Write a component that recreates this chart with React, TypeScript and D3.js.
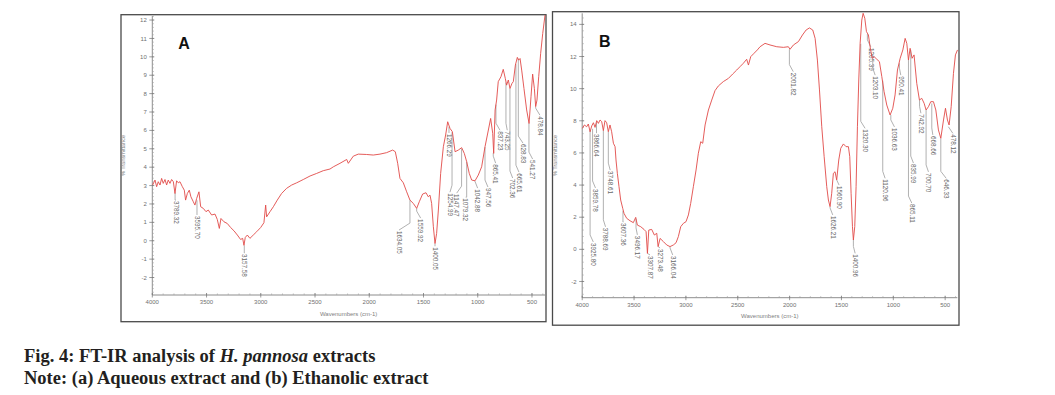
import React from 'react';
import * as d3 from 'd3';

// ---- spectra: [wavenumber (cm-1), % transmittance] ----
const spectrumA: [number, number][] = [
  [3997, 3.03], [3975, 3.3], [3960, 2.94], [3945, 3.21], [3929, 3.03], [3914, 3.39], [3899, 3.12],
  [3883, 3.33], [3868, 3.03], [3853, 3.3], [3837, 3.12], [3822, 3.33], [3806, 3.21], [3791, 2.57],
  [3776, 3.26], [3760, 3.15], [3745, 3.21], [3723, 2.94], [3705, 2.75], [3693, 2.21], [3677, 2.57],
  [3659, 2.75], [3644, 2.39], [3622, 2.12], [3607, 1.94], [3591, 2.3], [3570, 2.66], [3554, 1.85],
  [3530, 1.76], [3505, 1.58], [3484, 1.67], [3453, 1.4], [3422, 1.45], [3401, 1.16], [3382, 0.67],
  [3367, 1.21], [3339, 1.03], [3309, 0.94], [3278, 0.72], [3247, 0.54], [3216, 0.31], [3186, 0.07],
  [3167, 0.13], [3155, -0.25], [3143, 0.18], [3124, 0.31], [3100, 0.13], [3069, 0.31], [3038, 0.49],
  [3001, 0.72], [2971, 0.98], [2955, 1.94], [2946, 1.3], [2915, 1.58], [2884, 1.85], [2848, 2.21],
  [2808, 2.57], [2762, 2.85], [2715, 3.03], [2669, 3.15], [2608, 3.33], [2546, 3.52], [2485, 3.66],
  [2424, 3.81], [2362, 3.9], [2331, 4.02], [2270, 4.21], [2208, 4.42], [2193, 4.21], [2147, 4.6],
  [2101, 4.71], [2024, 4.69], [1963, 4.66], [1901, 4.71], [1840, 4.79], [1784, 4.93], [1760, 4.84],
  [1738, 4.21], [1717, 3.39], [1686, 3.15], [1655, 2.66], [1625, 2.21], [1594, 2.03], [1563, 1.76],
  [1539, 2.12], [1508, 2.54], [1477, 2.61], [1456, 2.39], [1440, 2.48], [1425, 2.03], [1409, 0.76],
  [1394, -0.15], [1379, 0.4], [1363, 1.67], [1342, 3.66], [1317, 5.11], [1296, 5.75], [1277, 6.47],
  [1256, 6.11], [1234, 5.93], [1209, 4.84], [1179, 4.93], [1148, 5.06], [1124, 4.75], [1102, 4.3],
  [1078, 3.66], [1056, 3.3], [1025, 3.26], [995, 3.57], [964, 4.02], [933, 5.11], [902, 6.02],
  [881, 6.65], [862, 5.84], [853, 4.75], [840, 7.11], [826, 7.65], [811, 8.65], [786, 8.92],
  [765, 9.32], [746, 8.83], [734, 8.46], [718, 8.74], [703, 8.28], [684, 8.56], [672, 8.65],
  [653, 9.55], [635, 9.97], [623, 9.82], [610, 9.91], [595, 9.28], [574, 8.28], [549, 7.11],
  [527, 6.38], [509, 7.83], [494, 9.06], [478, 8.28], [466, 7.29], [454, 7.65], [438, 8.92],
  [420, 10.19], [401, 11.27], [380, 12.27],
];

const spectrumB: [number, number][] = [
  [3998, 7.53], [3979, 7.74], [3957, 7.63], [3941, 7.8], [3924, 7.32], [3908, 7.68], [3892, 7.88],
  [3876, 7.59], [3860, 8.01], [3844, 7.84], [3828, 8.05], [3812, 7.95], [3796, 7.39], [3780, 8.01],
  [3764, 7.88], [3748, 7.32], [3732, 7.74], [3716, 7.32], [3699, 6.6], [3683, 6.39], [3674, 5.56],
  [3661, 4.73], [3645, 3.9], [3629, 3.07], [3609, 2.55], [3597, 2.24], [3571, 1.93], [3539, 1.78],
  [3507, 1.66], [3484, 1.99], [3468, 1.51], [3436, 1.41], [3404, 1.24], [3384, 1.1], [3371, -0.25],
  [3358, 1.2], [3330, 1.24], [3304, 0.89], [3281, 1.0], [3268, 0.17], [3249, 0.68], [3217, 0.48],
  [3185, 0.27], [3153, 0.17], [3121, 0.27], [3095, 0.41], [3073, 0.79], [3050, 1.41], [3024, 1.62],
  [2999, 1.72], [2976, 2.14], [2954, 2.86], [2928, 3.9], [2902, 4.94], [2880, 5.98], [2857, 6.7],
  [2838, 6.6], [2815, 7.74], [2783, 8.67], [2751, 9.29], [2719, 9.88], [2687, 10.17], [2639, 10.44],
  [2590, 10.64], [2549, 10.91], [2510, 11.16], [2478, 11.37], [2446, 11.58], [2414, 11.83],
  [2397, 11.47], [2375, 11.99], [2343, 12.2], [2311, 12.41], [2285, 12.61], [2237, 12.82],
  [2189, 12.72], [2124, 12.61], [2060, 12.57], [2012, 12.61], [1996, 12.45], [1963, 12.72],
  [1915, 12.93], [1876, 13.34], [1841, 13.65], [1809, 13.78], [1777, 13.65], [1754, 13.13],
  [1732, 11.78], [1712, 9.92], [1690, 7.63], [1667, 5.77], [1642, 3.9], [1626, 3.07], [1610, 2.66],
  [1594, 3.49], [1578, 4.73], [1562, 4.83], [1546, 4.32], [1526, 5.56], [1507, 6.29], [1481, 6.56],
  [1456, 6.39], [1433, 6.39], [1420, 5.77], [1407, 3.49], [1394, 1.41], [1385, 0.58], [1372, 1.41],
  [1359, 3.9], [1346, 7.63], [1333, 10.54], [1320, 12.82], [1304, 14.27], [1291, 14.69],
  [1275, 14.38], [1259, 13.55], [1240, 13.34], [1224, 12.61], [1204, 11.89], [1185, 11.99],
  [1159, 11.83], [1134, 11.68], [1111, 10.75], [1089, 9.81], [1063, 8.98], [1031, 8.36],
  [1005, 8.78], [983, 9.61], [960, 11.16], [934, 11.89], [908, 12.41], [886, 13.13], [870, 12.82],
  [854, 11.78], [838, 12.51], [819, 11.89], [800, 12.1], [774, 10.33], [748, 9.29], [726, 9.4],
  [703, 9.09], [684, 8.67], [661, 8.88], [639, 9.19], [613, 9.19], [590, 8.67], [565, 7.43],
  [542, 6.91], [516, 8.05], [497, 8.78], [478, 8.05], [462, 7.74], [442, 8.88], [420, 10.95],
  [401, 12.1], [381, 12.41],
];

// peak labels: text, peak wavenumber, %T where the leader starts, wavenumber of the label, %T of label top
type Peak = [string, number, number, number, number];

const peaksA: Peak[] = [
  ['3789.32', 3790, 2.6, 3782, 2.21],
  ['3595.70', 3588, 2.2, 3588, 1.4],
  ['3157.58', 3152, -0.25, 3150, -0.67],
  ['1634.05', 1625, 2.21, 1726, 0.58],
  ['1559.92', 1563, 1.76, 1526, 1.23],
  ['1400.05', 1394, -0.15, 1394, -0.3],
  ['1266.29', 1265, 6.2, 1265, 5.86],
  ['1254.99', 1237, 5.9, 1256, 2.64],
  ['1147.47', 1149, 5.0, 1194, 2.59],
  ['1079.32', 1102, 4.3, 1111, 2.37],
  ['1042.88', 1026, 3.26, 1001, 2.86],
  ['947.56', 933, 5.09, 906, 2.92],
  ['865.41', 857, 4.77, 835, 4.22],
  ['837.23', 832, 7.4, 795, 6.01],
  ['743.25', 740, 8.6, 728, 6.01],
  ['702.36', 703, 8.28, 678, 3.41],
  ['665.61', 648, 9.6, 620, 3.73],
  ['628.83', 626, 9.9, 583, 5.31],
  ['541.27', 528, 6.4, 494, 4.44],
  ['478.84', 466, 7.27, 427, 6.83],
];

const peaksB: Peak[] = [
  ['3925.80', 3924, 7.4, 3893, 0.46],
  ['3866.64', 3862, 7.9, 3860, 7.24],
  ['3859.78', 3900, 7.5, 3872, 3.82],
  ['3788.69', 3796, 7.4, 3775, 1.4],
  ['3748.61', 3748, 7.32, 3730, 4.93],
  ['3607.36', 3607, 2.4, 3603, 1.7],
  ['3496.17', 3481, 1.9, 3468, 0.9],
  ['3307.87', 3371, -0.25, 3346, -0.35],
  ['3273.48', 3268, 0.17, 3249, 0.08],
  ['3166.04', 3153, 0.17, 3127, -0.35],
  ['2001.82', 2002, 12.45, 1965, 11.06],
  ['1626.21', 1610, 2.66, 1584, 2.14],
  ['1560.90', 1546, 4.32, 1523, 4.0],
  ['1400.96', 1385, 0.58, 1368, -0.25],
  ['1320.30', 1314, 12.8, 1272, 7.53],
  ['1265.39', 1250, 13.4, 1217, 12.6],
  ['1203.10', 1198, 11.9, 1175, 10.84],
  ['1120.96', 1102, 10.5, 1079, 4.42],
  ['1036.63', 1024, 8.36, 989, 7.62],
  ['950.41', 941, 11.58, 928, 10.84],
  ['835.99', 832, 12.4, 806, 5.37],
  ['865.11', 854, 11.78, 822, 2.88],
  ['742.92', 747, 9.29, 734, 8.47],
  ['700.70', 684, 8.67, 661, 4.82],
  ['668.66', 629, 9.08, 619, 7.12],
  ['646.33', 542, 6.9, 490, 4.42],
  ['478.12', 469, 7.63, 426, 7.22],
];

const xTicks = [4000, 3500, 3000, 2500, 2000, 1500, 1000, 500];
const xMinor = d3.range(4000, 380, -100);
const yTicksA = d3.range(-2, 13, 1);
const yTicksB = d3.range(-2, 15, 2);

const captionTitle = ['Fig. 4: FT-IR analysis of ', 'H. pannosa', ' extracts'];
const captionNote = 'Note: (a) Aqueous extract and (b) Ethanolic extract';

interface PanelCfg {
  letter: string;
  frame: [number, number, number, number];
  plot: { left: number; right: number; top: number; bottom: number };
  xDomain: [number, number];
  yDomain: [number, number];
  yTicks: number[];
  yMinorStep: number;
  letterPos: [number, number];
  yLabelX: number;
}

const cfgA: PanelCfg = {
  letter: 'A',
  frame: [121, 14.7, 425, 307],
  plot: { left: 152.3, right: 545, top: 16, bottom: 295 },
  xDomain: [4000, 380],
  yDomain: [-2.95, 12.22],
  yTicks: yTicksA,
  yMinorStep: 0.2,
  letterPos: [184, 49.3],
  yLabelX: 125,
};

const cfgB: PanelCfg = {
  letter: 'B',
  frame: [552.5, 11.7, 406.5, 313.5],
  plot: { left: 582.2, right: 957.3, top: 13.3, bottom: 297.7 },
  xDomain: [4000, 383],
  yDomain: [-3.01, 14.69],
  yTicks: yTicksB,
  yMinorStep: 0.4,
  letterPos: [604.7, 47.3],
  yLabelX: 557,
};

const RED = '#e14a48';
const AXIS = '#707070';
const SANS = "'Liberation Sans', Arial, sans-serif";

const Panel: React.FC<{ cfg: PanelCfg; data: [number, number][]; peaks: Peak[] }> = ({ cfg, data, peaks }) => {
  const { plot } = cfg;
  const x = d3.scaleLinear().domain(cfg.xDomain).range([plot.left, plot.right]);
  const y = d3.scaleLinear().domain(cfg.yDomain).range([plot.bottom, plot.top]);
  const line = d3.line<[number, number]>().x(d => x(d[0])).y(d => y(d[1]));
  const yMinor = d3.range(Math.ceil(cfg.yDomain[0] / cfg.yMinorStep) * cfg.yMinorStep, cfg.yDomain[1], cfg.yMinorStep);
  const [fx, fy, fw, fh] = cfg.frame;

  return (
    <g>
      <rect x={fx} y={fy} width={fw} height={fh} fill="none" stroke="#4a4a4a" strokeWidth={1.3} />
      {/* y axis */}
      <line x1={plot.left} x2={plot.left} y1={plot.top} y2={plot.bottom} stroke={AXIS} strokeWidth={0.8} />
      {yMinor.map((v, i) => (
        <line key={'ym' + i} x1={plot.left} x2={plot.left + 1.6} y1={y(v)} y2={y(v)} stroke="#a0a0a0" strokeWidth={0.6} />
      ))}
      {cfg.yTicks.map(v => (
        <g key={'y' + v}>
          <line x1={plot.left - 3} x2={plot.left + 2} y1={y(v)} y2={y(v)} stroke={AXIS} strokeWidth={0.7} />
          <text x={plot.left - 5.5} y={y(v)} dy="0.35em" textAnchor="end" fontSize={6} fill="#707070" fontFamily={SANS}>
            {v}
          </text>
        </g>
      ))}
      <text
        transform={`translate(${cfg.yLabelX},${(plot.top + plot.bottom) / 2}) rotate(-90)`}
        textAnchor="middle" fontSize={5.5} fill="#808080" fontFamily={SANS}
      >
        % Transmittance
      </text>
      {/* x axis */}
      <line x1={plot.left} x2={plot.right} y1={plot.bottom} y2={plot.bottom} stroke={AXIS} strokeWidth={0.8} />
      {xMinor.map(v => (
        <line key={'xm' + v} x1={x(v)} x2={x(v)} y1={plot.bottom} y2={plot.bottom - 1.6} stroke="#a0a0a0" strokeWidth={0.6} />
      ))}
      {xTicks.map(v => (
        <g key={'x' + v}>
          <line x1={x(v)} x2={x(v)} y1={plot.bottom - 2} y2={plot.bottom + 2.5} stroke={AXIS} strokeWidth={0.7} />
          <text x={x(v)} y={plot.bottom + 9} textAnchor="middle" fontSize={6} fill="#707070" fontFamily={SANS}>
            {v}
          </text>
        </g>
      ))}
      <text x={(plot.left + plot.right) / 2} y={plot.bottom + 20.5} textAnchor="middle" fontSize={6} fill="#808080" fontFamily={SANS}>
        Wavenumbers (cm-1)
      </text>
      {/* peak leaders and labels */}
      {peaks.map(([label, wn, y0, lx, y1], i) => {
        const px = x(wn);
        const lxp = x(lx);
        const top = y(y1);
        const elbow = Math.abs(px - lxp) > 1 ? Math.max(y(y0), top - 7) : top;
        const pts: [number, number][] = [[px, y(y0)], [px, elbow], [lxp, top]];
        return (
          <g key={'p' + i}>
            <polyline points={pts.map(p => p.join(',')).join(' ')} fill="none" stroke="#a8a8a8" strokeWidth={0.9} />
            <text
              transform={`translate(${lxp},${top + 1}) rotate(90)`}
              dy="0.35em" fontSize={6.3} fill="#666" fontFamily={SANS}
            >
              {label}
            </text>
          </g>
        );
      })}
      {/* spectrum */}
      <path d={line(data) || ''} fill="none" stroke={RED} strokeWidth={1} strokeOpacity={0.9} strokeLinejoin="round" />
      <text x={cfg.letterPos[0]} y={cfg.letterPos[1]} textAnchor="middle" fontSize={16} fontWeight="bold" fill="#111" fontFamily={SANS}>
        {cfg.letter}
      </text>
    </g>
  );
};

export default function App() {
  const serif = "'Liberation Serif', 'Times New Roman', serif";
  return (
    <svg width={1055} height={395} style={{ position: 'absolute', left: 0, top: 0, background: '#fff' }}>
      <Panel cfg={cfgA} data={spectrumA} peaks={peaksA} />
      <Panel cfg={cfgB} data={spectrumB} peaks={peaksB} />
      <text x={24} y={362} fontSize={18.5} fontWeight="bold" fill="#231f20" fontFamily={serif}>
        {captionTitle[0]}
        <tspan fontStyle="italic">{captionTitle[1]}</tspan>
        {captionTitle[2]}
      </text>
      <text x={24} y={383.5} fontSize={18.5} fontWeight="bold" fill="#231f20" fontFamily={serif}>
        {captionNote}
      </text>
    </svg>
  );
}
